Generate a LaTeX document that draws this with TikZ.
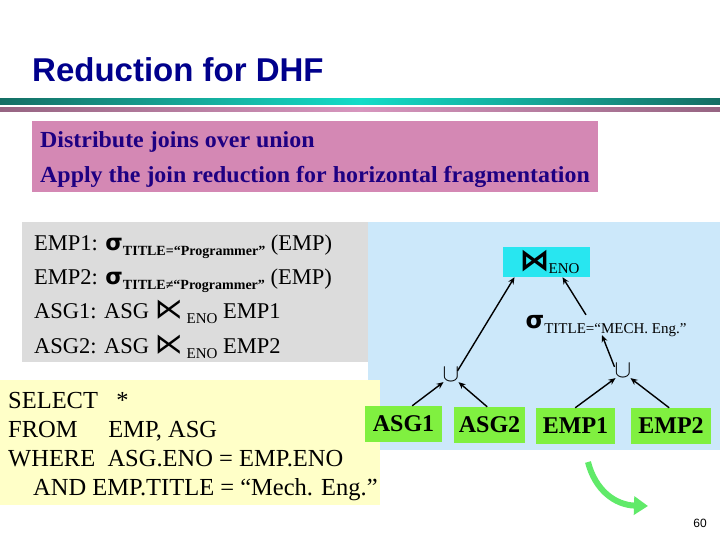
\documentclass[tikz,border=0pt]{standalone}
\usepackage{amsmath}
\usepackage{fontspec}
\setmainfont{Liberation Serif}
\setsansfont{Liberation Sans}
\newfontfamily\dvs{DejaVu Sans}
\usetikzlibrary{arrows.meta}
\definecolor{ttl}{RGB}{0,0,140}
\definecolor{pinkb}{RGB}{212,136,180}
\definecolor{pinkt}{RGB}{30,0,130}
\definecolor{grayb}{RGB}{220,220,220}
\definecolor{blueb}{RGB}{204,232,250}
\definecolor{yelb}{RGB}{255,255,200}
\definecolor{grn}{RGB}{128,240,64}
\definecolor{cyn}{RGB}{40,230,240}
\definecolor{teal1}{RGB}{20,110,100}
\definecolor{teal2}{RGB}{20,220,200}
\definecolor{mauve1}{RGB}{150,100,130}
\definecolor{mauve2}{RGB}{215,150,190}
\newcommand{\sj}{{\dvs ⋉}}
\newcommand{\sigsub}[1]{{\dvs\bfseries σ}\raisebox{-0.5ex}{\fontsize{14}{14}\selectfont\bfseries #1}}
\newcommand{\sigsubr}[1]{{\dvs\bfseries σ}\raisebox{-0.5ex}{\fontsize{15}{15}\selectfont #1}}
\begin{document}
\begin{tikzpicture}[x=1pt,y=-1pt,
  gbox/.style={fill=grn,inner sep=0pt,minimum height=36pt,font=\fontsize{24}{24}\selectfont\bfseries},
  arr/.style={-{Stealth[length=7pt,width=6pt]},line width=1.4pt},
  txt/.style={anchor=base west,inner sep=0pt}]
\useasboundingbox (0,0) rectangle (720,540);
\fill[white] (0,0) rectangle (720,540);
\node[txt,text=ttl,font=\fontsize{33}{33}\selectfont\sffamily\bfseries] (title) at (32,82) {Reduction for DHF};
\shade[left color=teal1,right color=teal2] (0,99) rectangle (360,105);
\shade[left color=teal2,right color=teal1] (360,99) rectangle (720,105);
\shade[left color=mauve1,right color=mauve2] (0,108) rectangle (360,112);
\shade[left color=mauve2,right color=mauve1] (360,108) rectangle (720,112);
% pink box
\fill[pinkb] (32,121) rectangle (598,192);
\node[txt,text=pinkt,font=\fontsize{23}{23}\selectfont\bfseries,xscale=1.04] (p1) at (40,148) {Distribute joins over union};
\node[txt,text=pinkt,font=\fontsize{23}{23}\selectfont\bfseries,xscale=1.04] (p2) at (40,183) {Apply the join reduction for horizontal fragmentation};
% boxes
\fill[blueb] (368,222) rectangle (720,450);
\fill[grayb] (22,222) rectangle (368,362);
\fill[yelb] (0,380) rectangle (380,505);
\begin{scope}[every node/.style={txt,font=\fontsize{22.5}{22.5}\selectfont}]
\node (e1) at (34,250) {EMP1: \sigsub{TITLE=“Programmer”} (EMP)};
\node (e2) at (34,284) {EMP2: \sigsub{TITLE≠“Programmer”} (EMP)};
\node (a1) at (34,318) {ASG1: ASG \raisebox{0pt}{\fontsize{28}{28}\selectfont\sj}\,\raisebox{-0.5ex}{\fontsize{15}{15}\selectfont ENO} EMP1};
\node (a2) at (34,353) {ASG2: ASG \raisebox{0pt}{\fontsize{28}{28}\selectfont\sj}\,\raisebox{-0.5ex}{\fontsize{15}{15}\selectfont ENO} EMP2};
\end{scope}
\begin{scope}[every node/.style={txt,font=\fontsize{24.5}{24.5}\selectfont}]
\node (s1) at (8,408) {SELECT\ \ \ *};
\node (s2) at (8,437) {FROM\ \ \ \ \ EMP, ASG};
\node (s3) at (8,466) {WHERE\ \ ASG.ENO = EMP.ENO};
\node (s4) at (33,495) {AND EMP.TITLE = “Mech. Eng.”};
\end{scope}
% tree
\node[gbox,minimum width=77pt] (g1) at (403.5,424) {ASG1};
\node[gbox,minimum width=71pt] (g2) at (489.5,425) {ASG2};
\node[gbox,minimum width=79pt] (g3) at (575.5,426) {EMP1};
\node[gbox,minimum width=80pt] (g4) at (671,426) {EMP2};
\node[fill=cyn,minimum width=87pt,minimum height=30pt,inner sep=0pt] (j) at (546.5,262) {\hspace{6pt}{\fontsize{30}{30}\selectfont\dvs\bfseries ⋈}\hspace{-1pt}\raisebox{-0.5ex}{\fontsize{15}{15}\selectfont ENO}\hfill};
\node[inner sep=0pt,font=\fontsize{24}{24}\selectfont] (sg) at (606,326) {\sigsubr{TITLE=“MECH. Eng.”}};
\node[inner sep=0pt,font=\fontsize{26}{26}\selectfont] (u1) at (451,375) {$\cup$};
\node[inner sep=0pt,font=\fontsize{26}{26}\selectfont] (u2) at (623,371) {$\cup$};
\draw[arr] ([xshift=-2pt,yshift=-3pt]u1.north east) -- ([xshift=-32pt]j.south);
\draw[arr] ([xshift=-20pt]sg.north) -- ([xshift=16pt]j.south);
\draw[arr] ([yshift=-3pt]u2.north west) -- ([xshift=-4pt,yshift=2pt]sg.south);
\draw[arr] ([xshift=-30pt]g1.north east) -- ([xshift=1pt]u1.south west);
\draw[arr] ([xshift=-38pt]g2.north east) -- ([xshift=-1pt]u1.south east);
\draw[arr] ([xshift=-40pt]g3.north east) -- ([xshift=1pt]u2.south west);
\draw[arr] ([xshift=-42pt]g4.north east) -- ([xshift=-1pt]u2.south east);
% green curved arrow
\draw[-{Triangle[length=14pt,width=18pt]},line width=6pt,color=grn!70!teal2] (588,462) .. controls (595,490) and (615,505) .. (648,506);
\node[anchor=base,inner sep=0pt,font=\fontsize{12}{12}\selectfont\sffamily] (pg) at (700,527) {60};
\end{tikzpicture}
\end{document}
